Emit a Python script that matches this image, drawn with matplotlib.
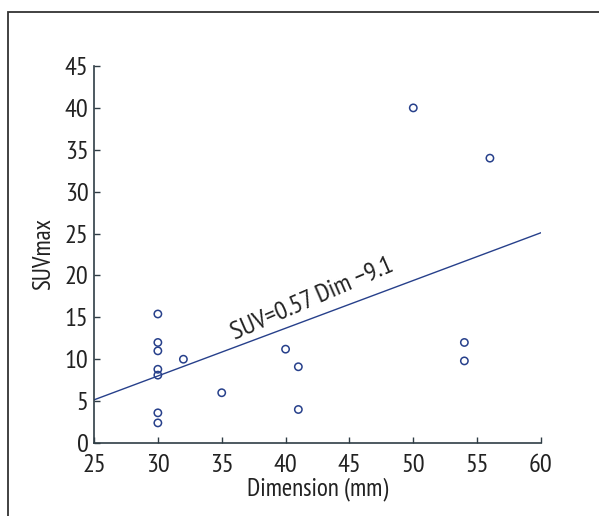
import numpy as np
import matplotlib
matplotlib.use("Agg")
import matplotlib.pyplot as plt
from matplotlib.patches import Rectangle

plt.rcParams['font.family'] = ['PT Sans Narrow', 'DejaVu Sans']

# data
dimension = [30, 30, 30, 30, 30, 30, 30, 32, 35, 40, 41, 41, 50, 54, 54, 56]
suv_max = [15.4, 12.0, 11.0, 8.8, 8.1, 3.6, 2.4, 10.0, 6.0, 11.2, 9.1, 4.0, 40.0, 12.0, 9.8, 34.0]
slope, intercept = 0.57, -9.1
fit_x = [25, 60]
x_ticks = [25, 30, 35, 40, 45, 50, 55, 60]
y_ticks = [0, 5, 10, 15, 20, 25, 30, 35, 40, 45]

navy = '#27408b'
axis_col = '#2f3d45'
fs = 19

fig = plt.figure(figsize=(5.99, 5.16), dpi=100)
ax = fig.add_axes([94 / 599, 1 - 443 / 516, (541 - 94) / 599, (443 - 66) / 516])

fit_y = [slope * v + intercept for v in fit_x]
ax.plot(fit_x, fit_y, color=navy, lw=1.0)
ax.scatter(dimension, suv_max, s=28, facecolors='none', edgecolors=navy, linewidths=1.1, zorder=3)

ax.text(36.0, 12.4, 'SUV=0.57 Dim \u22129.1', rotation=23.5, rotation_mode='anchor',
        ha='left', va='baseline', fontsize=fs, color='#222222')

ax.set_xlim(25, 60)
ax.set_ylim(0, 45)
ax.set_xticks(x_ticks)
ax.set_yticks(y_ticks)
ax.tick_params(direction='in', length=4, width=1, colors=axis_col, labelcolor='#222222',
               labelsize=fs)
ax.tick_params(axis='x', pad=8)
ax.tick_params(axis='y', pad=4)
for side in ['top', 'right']:
    ax.spines[side].set_visible(False)
for side in ['left', 'bottom']:
    ax.spines[side].set_color(axis_col)
    ax.spines[side].set_linewidth(1.2)

ax.set_xlabel('Dimension (mm)', fontsize=18, color='#222222', labelpad=0)
ax.set_ylabel('SUVmax', fontsize=18, color='#222222', labelpad=7)

# outer frame
fig.patches.append(Rectangle((8 / 599, -0.1), 1.2, 1 - 11.5 / 516 + 0.1, transform=fig.transFigure,
                             fill=False, edgecolor='#333333', lw=1.3))

fig.savefig('out.png', dpi=100)
